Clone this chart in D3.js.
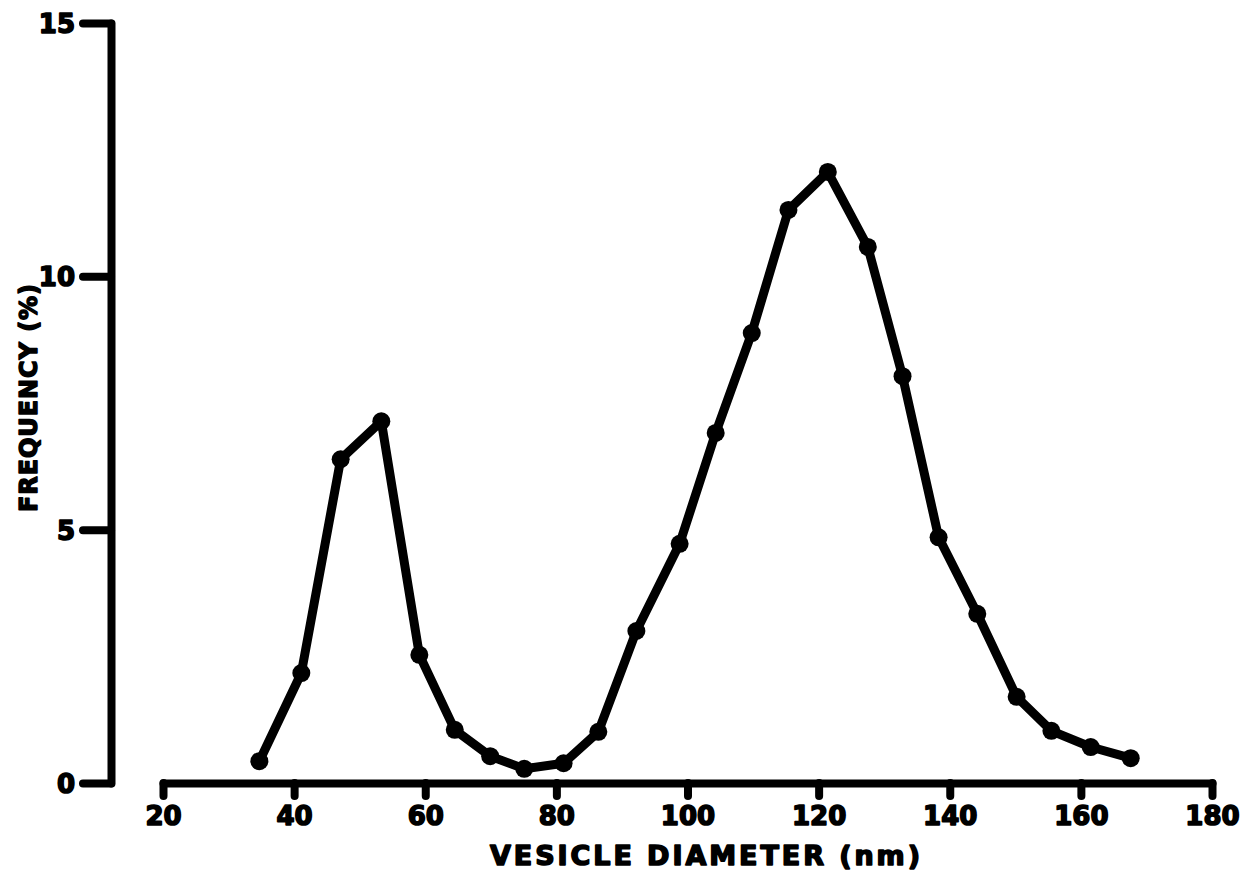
<!DOCTYPE html>
<html>
<head>
<meta charset="utf-8">
<script src="https://cdn.jsdelivr.net/npm/d3@7"></script>
<style>
  html, body { margin: 0; padding: 0; background: #fff; }
  svg { display: block; }
</style>
</head>
<body>
<script>
// Chart data.
var diameters = [34.7, 41.1, 47.1, 53.3, 59.1, 64.5, 69.9, 75.1, 81.1, 86.4, 92.2, 98.8,
                 104.3, 109.8, 115.4, 121.4, 127.5, 132.8, 138.3, 144.2, 150.2, 155.5, 161.5, 167.6];
var frequencies = [0.43, 2.17, 6.39, 7.14, 2.53, 1.05, 0.53, 0.28, 0.39, 1.01, 3.0, 4.72,
                   6.91, 8.88, 11.31, 12.06, 10.58, 8.03, 4.85, 3.34, 1.70, 1.03, 0.71, 0.49];
var xTicks = [20, 40, 60, 80, 100, 120, 140, 160, 180];
var yTicks = [0, 5, 10, 15];

// Canvas.
var width  = 1250,
    height = 871,
    ink    = "#000",
    font   = "'DejaVu Sans', sans-serif";

var svg = d3.select("body")
    .append("svg")
    .attr("width", width)
    .attr("height", height);

// Scales.
var x = d3.scaleLinear().domain([20, 180]).range([163, 1212]);
var y = d3.scaleLinear().domain([0, 15]).range([783, 23]);

// X axis (detached from y axis, ticks pointing down).
var xAxis = svg.append("g")
    .attr("transform", "translate(0," + y(0) + ")")
    .call(d3.axisBottom(x).tickValues(xTicks).tickSize(13).tickSizeOuter(0).tickPadding(11));

// Y axis.
var yAxis = svg.append("g")
    .attr("transform", "translate(111,0)")
    .call(d3.axisLeft(y).tickValues(yTicks).tickSize(28).tickSizeOuter(0).tickPadding(8));

[xAxis, yAxis].forEach(function(g) {
    g.select(".domain")
        .attr("stroke", ink)
        .attr("stroke-width", 8)
        .attr("stroke-linecap", "round");
    g.selectAll(".tick line")
        .attr("stroke", ink)
        .attr("stroke-width", 8)
        .attr("stroke-linecap", "round");
    // Heavy, rounded lettering like the original.
    g.selectAll(".tick text")
        .attr("fill", ink)
        .attr("stroke", ink)
        .attr("stroke-width", 1.6)
        .attr("stroke-linejoin", "round")
        .attr("font-family", font)
        .attr("font-weight", "bold")
        .attr("font-size", "26px");
});

yAxis.selectAll(".tick text").attr("dy", "0.36em");

// The line.
var line = d3.line()
    .x(function(d) { return x(d[0]); })
    .y(function(d) { return y(d[1]); });

var pts = d3.zip(diameters, frequencies);

svg.append("path")
    .datum(pts)
    .attr("d", line)
    .attr("fill", "none")
    .attr("stroke", ink)
    .attr("stroke-width", 9)
    .attr("stroke-linejoin", "round")
    .attr("stroke-linecap", "round");

// Dots.
svg.selectAll("circle")
    .data(pts)
  .enter()
    .append("circle")
    .attr("cx", function(d) { return x(d[0]); })
    .attr("cy", function(d) { return y(d[1]); })
    .attr("r", 9)
    .attr("fill", ink);

// Axis titles.
svg.append("text")
    .text("VESICLE DIAMETER (nm)")
    .attr("x", 705)
    .attr("y", 865)
    .attr("text-anchor", "middle")
    .attr("textLength", 430)
    .attr("lengthAdjust", "spacing")
    .attr("font-family", font)
    .attr("font-weight", "bold")
    .attr("font-size", "27px")
    .attr("fill", ink)
    .attr("stroke", ink)
    .attr("stroke-width", 1.6)
    .attr("stroke-linejoin", "round");

svg.append("text")
    .text("FREQUENCY (%)")
    .attr("transform", "translate(37,398) rotate(-90)")
    .attr("text-anchor", "middle")
    .attr("textLength", 228)
    .attr("lengthAdjust", "spacing")
    .attr("font-family", font)
    .attr("font-weight", "bold")
    .attr("font-size", "24px")
    .attr("fill", ink)
    .attr("stroke", ink)
    .attr("stroke-width", 1.4)
    .attr("stroke-linejoin", "round");
</script>
</body>
</html>
